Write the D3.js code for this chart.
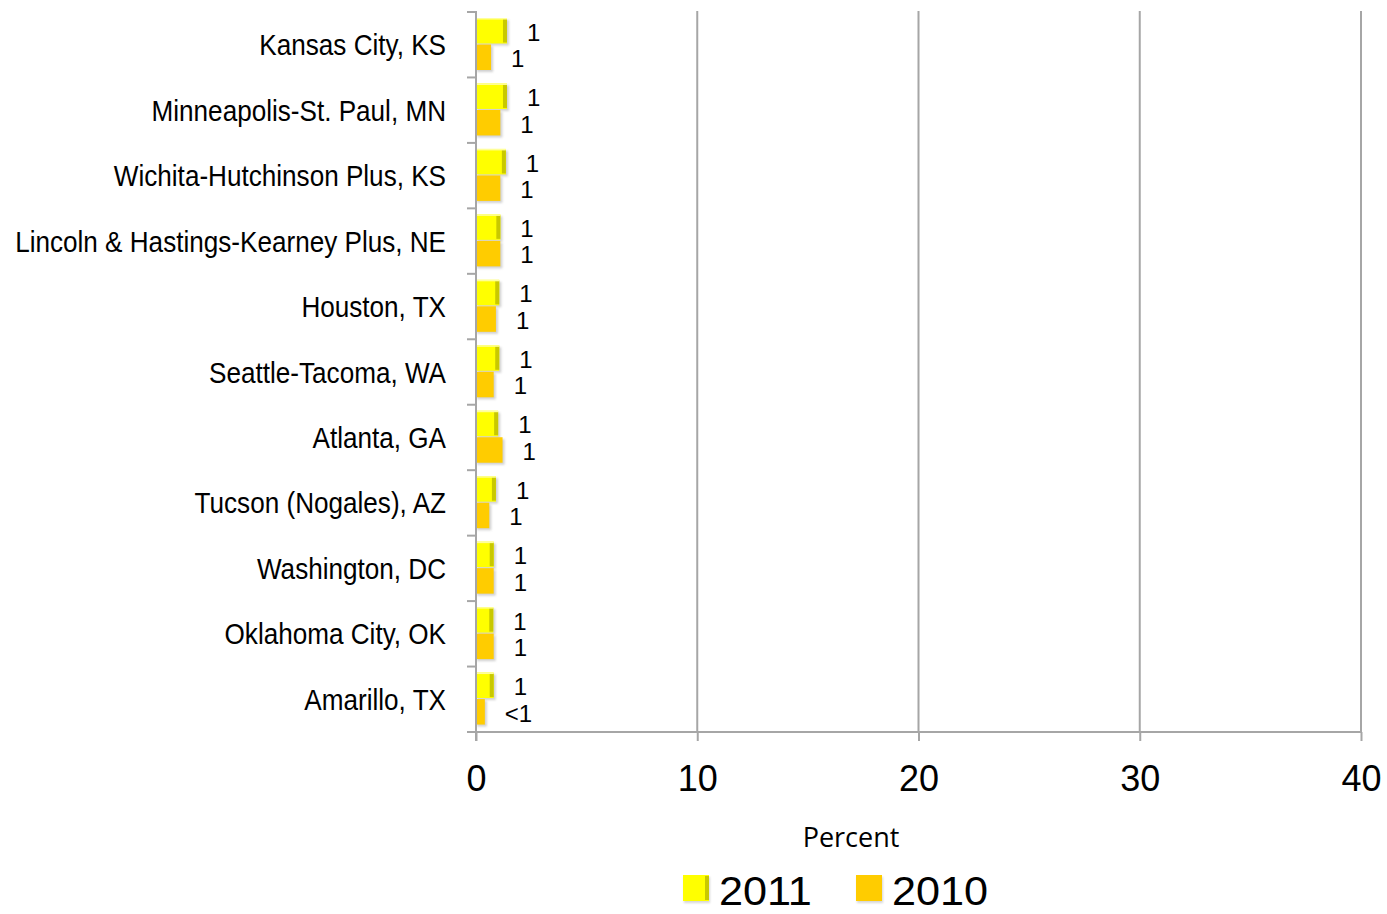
<!DOCTYPE html>
<html><head><meta charset="utf-8">
<script src="https://cdn.jsdelivr.net/npm/d3@7"></script>
<style>body{margin:0;background:#fff;} svg{display:block;}</style>
</head><body>
<svg id="c" width="1387" height="914"></svg>
<script>
const categories = ["Kansas City, KS","Minneapolis-St. Paul, MN","Wichita-Hutchinson Plus, KS","Lincoln & Hastings-Kearney Plus, NE","Houston, TX","Seattle-Tacoma, WA","Atlanta, GA","Tucson (Nogales), AZ","Washington, DC","Oklahoma City, OK","Amarillo, TX"];
const series = ["2011","2010"];
const values2011 = [1.4, 1.4, 1.35, 1.1, 1.05, 1.05, 1.0, 0.9, 0.8, 0.78, 0.8];
const values2010 = [0.68, 1.1, 1.1, 1.1, 0.9, 0.8, 1.2, 0.6, 0.8, 0.8, 0.4];
const labels2011 = ["1","1","1","1","1","1","1","1","1","1","1"];
const labels2010 = ["1","1","1","1","1","1","1","1","1","1","<1"];
const xTicks = [0,10,20,30,40];
const xTitle = "Percent";

const svg = d3.select("#c");
const x = d3.scaleLinear().domain([0,40]).range([476,1361]);
const y = d3.scaleBand().domain(categories).range([12,732]).padding(0);
const ySub = d3.scaleBand().domain(series).range([6,59]).padding(0);
const colors = {"2011":"#FFFF00","2010":"#FFCC00"};
const edge = {"2011":"#C8C800","2010":"#E6B800"};

const defs = svg.append("defs");
const f = defs.append("filter").attr("id","sh").attr("x","-20%").attr("y","-20%").attr("width","150%").attr("height","150%");
f.append("feGaussianBlur").attr("stdDeviation",1.2);

// gridlines
svg.append("g").selectAll("line").data(xTicks.slice(1)).join("line")
  .attr("x1",d=>x(d)).attr("x2",d=>x(d)).attr("y1",11).attr("y2",732)
  .attr("stroke","#A6A6A6").attr("stroke-width",2);

// bars
const data = [];
categories.forEach((c,i)=>{
  data.push({c, s:"2011", v:values2011[i], l:labels2011[i]});
  data.push({c, s:"2010", v:values2010[i], l:labels2010[i]});
});
const g = svg.append("g");
g.selectAll("rect.sh").data(data).join("rect").attr("class","sh")
  .attr("x",x(0)+1).attr("y",d=>y(d.c)+ySub(d.s)+2)
  .attr("width",d=>x(d.v)-x(0)+1).attr("height",ySub.bandwidth()-1)
  .attr("fill","#999").attr("opacity",0.45).attr("filter","url(#sh)");
g.selectAll("rect.bar").data(data).join("rect").attr("class","bar")
  .attr("x",x(0)).attr("y",d=>y(d.c)+ySub(d.s))
  .attr("width",d=>x(d.v)-x(0)).attr("height",ySub.bandwidth()-1)
  .attr("fill",d=>colors[d.s]);
g.selectAll("rect.edge").data(data.filter(d=>d.s==="2011")).join("rect").attr("class","edge")
  .attr("x",d=>x(d.v)-4).attr("y",d=>y(d.c)+ySub(d.s)+1)
  .attr("width",4).attr("height",ySub.bandwidth()-3)
  .attr("fill",d=>edge[d.s]);
g.selectAll("rect.top").data(data.filter(d=>d.s==="2011")).join("rect").attr("class","top")
  .attr("x",x(0)).attr("y",d=>y(d.c)+ySub(d.s))
  .attr("width",d=>x(d.v)-x(0)).attr("height",1.5)
  .attr("fill","#FFFF99");

// value labels
g.selectAll("text.val").data(data).join("text").attr("class","val")
  .attr("x",d=>x(d.v)+20).attr("y",d=>y(d.c)+ySub(d.s)+ySub.bandwidth()/2+3)
  .attr("dominant-baseline","middle")
  .attr("font-family","'Liberation Sans', Arial, sans-serif").attr("font-size",24)
  .attr("fill","#000").text(d=>d.l);

// y axis
const yAxis = svg.append("g").attr("transform",`translate(${x(0)},0)`)
  .call(d3.axisLeft(y).tickSize(0).tickPadding(30).tickFormat(d=>d));
yAxis.select(".domain").remove();
yAxis.selectAll("text").attr("font-family","'Liberation Sans', Arial, sans-serif")
  .attr("font-size",30).attr("fill","#000").attr("dy","0.35em")
  .each(function(){
    const w = this.getComputedTextLength();
    d3.select(this).attr("textLength", w*0.87).attr("lengthAdjust","spacingAndGlyphs");
  });
const bounds = categories.map(c=>y(c)).concat([y.range()[1]]);
svg.append("g").selectAll("line").data(bounds).join("line")
  .attr("x1",x(0)-9).attr("x2",x(0)).attr("y1",d=>d).attr("y2",d=>d)
  .attr("stroke","#A6A6A6").attr("stroke-width",2);
svg.append("line").attr("x1",x(0)).attr("x2",x(0)).attr("y1",11).attr("y2",741)
  .attr("stroke","#A6A6A6").attr("stroke-width",2);

// x axis
const xAxis = svg.append("g").attr("transform","translate(0,732)")
  .call(d3.axisBottom(x).tickValues(xTicks).tickSize(9).tickPadding(24).tickSizeOuter(0));
xAxis.select(".domain").attr("d",`M${x(0)-9},0H${x(40)}`).attr("stroke","#A6A6A6").attr("stroke-width",2);
xAxis.selectAll(".tick line").attr("stroke","#A6A6A6").attr("stroke-width",2);
xAxis.selectAll("text").attr("font-family","'Liberation Sans', Arial, sans-serif")
  .attr("font-size",36).attr("fill","#000");

svg.append("text").attr("x",851).attr("y",847).attr("text-anchor","middle")
  .attr("font-family","'Open Sans', sans-serif").attr("font-size",27).attr("fill","#000").text(xTitle);

// legend
const legX = {"2011":683,"2010":856};
const leg = svg.append("g").selectAll("g").data(series).join("g")
  .attr("transform",d=>`translate(${legX[d]},875)`);
leg.append("rect").attr("x",1).attr("y",2).attr("width",26).attr("height",26).attr("fill","#999").attr("opacity",0.4).attr("filter","url(#sh)");
leg.append("rect").attr("width",26).attr("height",26).attr("fill",d=>colors[d]);
leg.filter(d=>d==="2011").append("rect").attr("x",22).attr("y",1).attr("width",4).attr("height",24).attr("fill",edge["2011"]);
leg.append("text").attr("x",36).attr("y",30).attr("font-family","'Liberation Sans', Arial, sans-serif")
  .attr("font-size",40).attr("fill","#000").text(d=>d)
  .each(function(){
    const w = this.getComputedTextLength();
    d3.select(this).attr("textLength", w*1.08).attr("lengthAdjust","spacingAndGlyphs");
  });
</script>
</body></html>
